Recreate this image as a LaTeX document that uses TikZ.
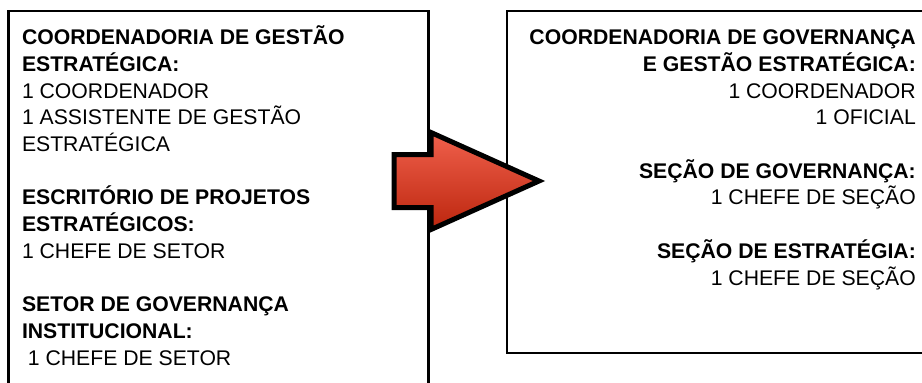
\documentclass[tikz,border=0pt]{standalone}
\usepackage{fontspec}
\setmainfont{Liberation Sans}
\usepackage{tikz}
\usepackage{xcolor}

\definecolor{setatopo}{RGB}{240,96,76}
\definecolor{setabase}{RGB}{188,38,14}

\begin{document}
\begin{tikzpicture}[x=1pt, y=-1pt,
        caixa/.style={black, line width=2.8pt},
        texto/.style={inner sep=0pt, font=\fontsize{21.2}{26.67}\selectfont}]
        \clip (0,0) rectangle (922,383);
        \fill[white] (0,0) rectangle (922,383);

        % estrutura atual
        \draw[caixa] (8.5,395) -- (8.5,11) -- (428.5,11) -- (428.5,395);
        \node[texto, anchor=base west, align=left] (atual) at (21.8,365) {%
            \textbf{COORDENADORIA DE GESTÃO}\\
            \textbf{ESTRATÉGICA:}\\
            1 COORDENADOR\\
            1 ASSISTENTE DE GESTÃO\\
            ESTRATÉGICA\\[26.67pt]
            \textbf{ESCRITÓRIO DE PROJETOS}\\
            \textbf{ESTRATÉGICOS:}\\
            1 CHEFE DE SETOR\\[26.67pt]
            \textbf{SETOR DE GOVERNANÇA}\\
            \textbf{INSTITUCIONAL:}\\
            \ 1 CHEFE DE SETOR};

        % estrutura nova
        \draw[caixa] (935,353) -- (507,353) -- (507,11) -- (935,11);
        \node[texto, anchor=base east, align=right] (nova) at (916,285) {%
            \textbf{COORDENADORIA DE GOVERNANÇA}\\
            \textbf{E GESTÃO ESTRATÉGICA:}\\
            1 COORDENADOR\\
            1 OFICIAL\\[26.67pt]
            \textbf{SEÇÃO DE GOVERNANÇA:}\\
            1 CHEFE DE SEÇÃO\\[26.67pt]
            \textbf{SEÇÃO DE ESTRATÉGIA:}\\
            1 CHEFE DE SEÇÃO};

        % seta
        \draw[black, line width=5pt, miter limit=20, top color=setatopo, bottom color=setabase]
            (394,154.5) -- (431,154.5) -- (431,132.5) -- (539,181) -- (431,229.5)
            -- (431,207.5) -- (394,207.5) -- cycle;
    \end{tikzpicture}
\end{document}
